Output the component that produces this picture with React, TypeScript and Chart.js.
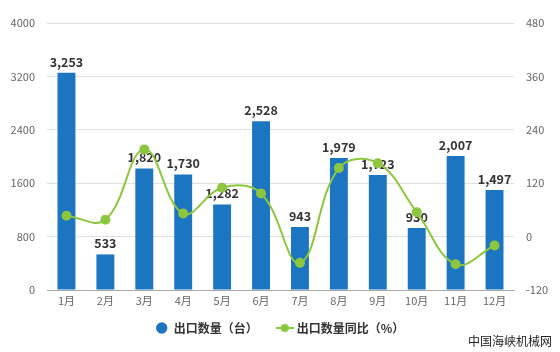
import React, { useEffect, useRef } from "react";
import { Chart, registerables } from "chart.js";
Chart.register(...registerables);

const months = ["1月", "2月", "3月", "4月", "5月", "6月", "7月", "8月", "9月", "10月", "11月", "12月"];
const exportQty = [3253, 533, 1820, 1730, 1282, 2528, 943, 1979, 1723, 930, 2007, 1497];
const exportYoY = [47, 38, 196, 52, 110, 97, -59, 154, 165, 55, -62, -20];
const barLabel = "出口数量（台）";
const lineLabel = "出口数量同比（%）";
const sourceText = "中国海峡机械网";

const BLUE = "#1b75c1";
const GREEN = "#8dc63f";
const FONT = "'Noto Sans CJK SC', 'DejaVu Sans', sans-serif";
const LEGEND_SHIFT = -8;

export default function App() {
  const ref = useRef<HTMLCanvasElement>(null);
  useEffect(() => {
    document.body.style.margin = "0";
    const canvas = ref.current!;

    const icon = document.createElement("canvas");
    icon.width = 18;
    icon.height = 10;
    const ic = icon.getContext("2d")!;
    ic.strokeStyle = GREEN;
    ic.lineWidth = 2;
    ic.beginPath();
    ic.moveTo(0, 5);
    ic.lineTo(18, 5);
    ic.stroke();
    ic.fillStyle = GREEN;
    ic.beginPath();
    ic.arc(9, 5, 4, 0, Math.PI * 2);
    ic.fill();

    const labelPlugin = {
      id: "barLabels",
      afterLayout(chart: any) {
        const lg = chart.legend;
        if (lg) {
          lg.top += LEGEND_SHIFT;
          lg.bottom += LEGEND_SHIFT;
          if (lg.adjustHitBoxes) lg.adjustHitBoxes();
        }
      },
      afterDatasetDraw(chart: any, args: any) {
        if (args.index !== 0) return;
        const c = chart.ctx;
        const meta = chart.getDatasetMeta(0);
        c.save();
        c.font = `bold 12.5px ${FONT}`;
        c.fillStyle = "#333";
        c.textAlign = "center";
        c.textBaseline = "middle";
        meta.data.forEach((el: any, i: number) => {
          c.fillText(exportQty[i].toLocaleString("en-US"), el.x, el.y - 11);
        });
        c.restore();
      },
      afterDraw(chart: any) {
        const c = chart.ctx;
        c.save();
        c.font = `12px ${FONT}`;
        c.fillStyle = "#222";
        c.textAlign = "right";
        c.textBaseline = "middle";
        c.fillText(sourceText, 552, 341);
        c.restore();
      },
    };

    const chart = new Chart(canvas, {
      type: "bar",
      data: {
        labels: months,
        datasets: [
          {
            type: "bar",
            label: barLabel,
            data: exportQty,
            backgroundColor: BLUE,
            yAxisID: "y",
            barPercentage: 0.92,
            categoryPercentage: 0.5,
            order: 1,
          },
          {
            type: "line",
            label: lineLabel,
            data: exportYoY,
            borderColor: GREEN,
            backgroundColor: GREEN,
            borderWidth: 2,
            pointRadius: 4,
            pointBackgroundColor: GREEN,
            pointBorderColor: GREEN,
            tension: 0.4,
            yAxisID: "y1",
            order: 0,
          } as any,
        ],
      },
      options: {
        responsive: false,
        animation: false,
        layout: { padding: { top: 23, bottom: 0, left: 0, right: 0 } },
        plugins: {
          tooltip: { enabled: false },
          legend: {
            position: "bottom",
            labels: {
              usePointStyle: true,
              boxWidth: 16,
              boxHeight: 8,
              padding: 21,
              color: "#333",
              font: { size: 12, weight: "bold", family: FONT },
              generateLabels: (ch: any) => {
                const items = (Chart.defaults.plugins.legend.labels as any).generateLabels(ch);
                items.sort((a: any, b: any) => a.datasetIndex - b.datasetIndex);
                items.forEach((it: any) => {
                  if (it.datasetIndex === 0) {
                    it.pointStyle = "circle";
                    it.fillStyle = BLUE;
                    it.strokeStyle = BLUE;
                  } else {
                    it.pointStyle = icon;
                  }
                });
                return items;
              },
            },
          },
        },
        scales: {
          x: {
            grid: { display: false, drawTicks: false },
            border: { display: true, color: "#aaa" },
            ticks: { color: "#666", font: { size: 11, family: FONT }, padding: 4 },
            afterFit: (s: any) => {
              s.height = 19;
            },
          },
          y: {
            position: "left",
            min: 0,
            max: 4000,
            grid: { color: "#e0e0e0", drawTicks: false },
            border: { display: false },
            ticks: {
              stepSize: 800,
              color: "#666",
              font: { size: 11, family: FONT },
              padding: 12,
              callback: (v: any) => String(v),
            },
            afterFit: (s: any) => {
              s.width = 47;
            },
          },
          y1: {
            position: "right",
            min: -120,
            max: 480,
            grid: { display: false, drawTicks: false },
            border: { display: false },
            ticks: {
              stepSize: 120,
              color: "#666",
              font: { size: 11, family: FONT },
              padding: 12,
              callback: (v: any) => String(v),
            },
            afterFit: (s: any) => {
              s.width = 46;
            },
          },
        },
      },
      plugins: [labelPlugin],
    } as any);
    return () => chart.destroy();
  }, []);
  return (
    <div style={{ position: "absolute", left: 0, top: 0, width: 560, height: 352, background: "#fff" }}>
      <canvas ref={ref} width={560} height={352} style={{ width: 560, height: 352, display: "block" }} />
    </div>
  );
}
